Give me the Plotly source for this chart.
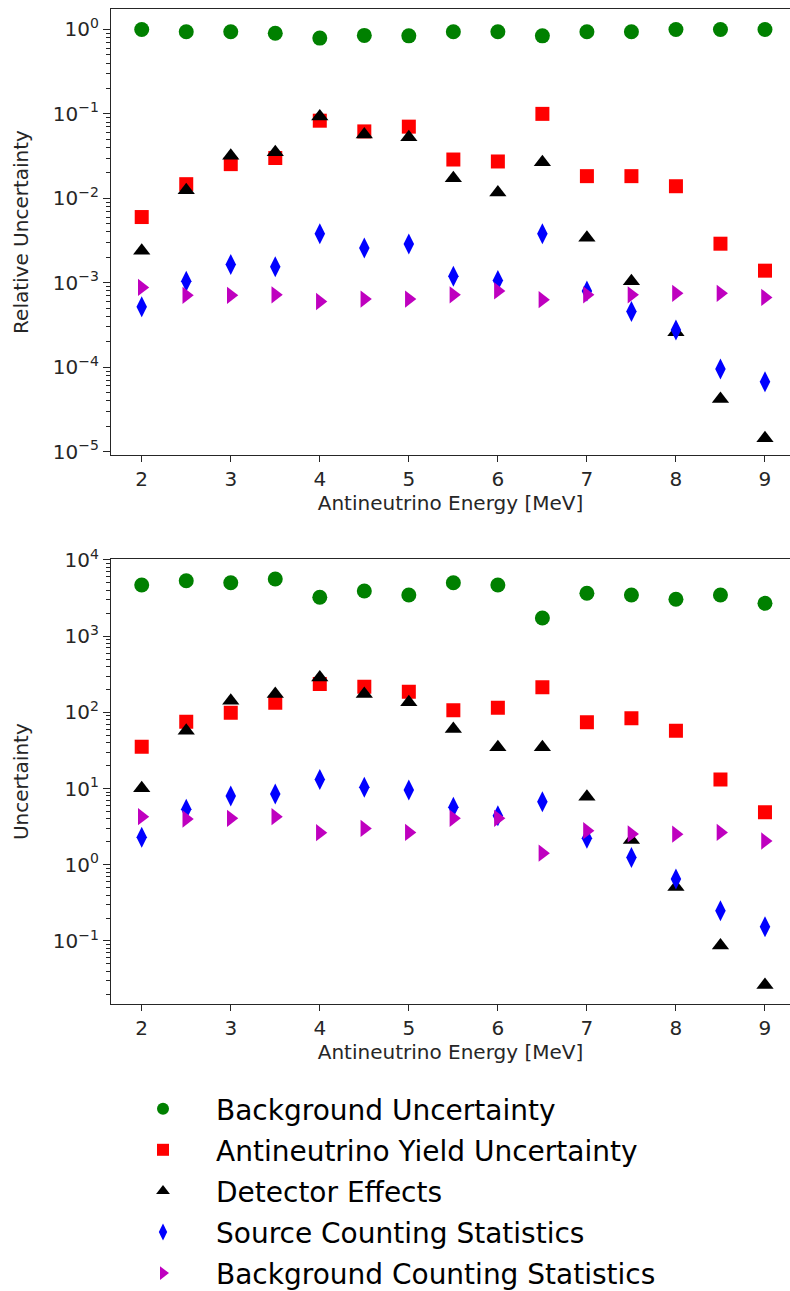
import plotly.graph_objects as go

# Antineutrino energy bins [MeV]
energy = [2.0, 2.5, 3.0, 3.5, 4.0, 4.5, 5.0, 5.5, 6.0, 6.5, 7.0, 7.5, 8.0, 8.5, 9.0]

# Relative uncertainties (upper panel)
rel_background = [1.0, 0.94, 0.94, 0.90, 0.79, 0.85, 0.84, 0.94, 0.94, 0.84, 0.94, 0.94, 1.0, 1.0, 1.0]
rel_yield = [0.0060, 0.0147, 0.0254, 0.030, 0.083, 0.062, 0.0706, 0.0288, 0.0273, 0.10,
             0.0183, 0.0183, 0.0139, 0.0029, 0.00139]
rel_detector = [0.0024, 0.0125, 0.032, 0.035, 0.093, 0.057, 0.053, 0.0173, 0.0117, 0.0268,
                0.0034, 0.00104, 0.00026, 4.2e-5, 1.44e-5]
rel_source_stat = [0.00052, 0.00104, 0.00164, 0.00155, 0.0038, 0.00258, 0.00288, 0.00119,
                   0.00106, 0.0038, 0.0008, 0.000455, 0.000275, 9.5e-5, 6.7e-5]
rel_bkg_stat = [0.00088, 0.00071, 0.00071, 0.00072, 0.0006, 0.00064, 0.00064, 0.00072,
                0.0008, 0.00063, 0.00072, 0.00072, 0.00075, 0.00075, 0.00067]

# Absolute uncertainties (lower panel)
abs_background = [4700, 5350, 5030, 5640, 3240, 3920, 3470, 5030, 4700, 1730, 3660, 3470, 3050, 3470, 2700]
abs_yield = [35.5, 75.5, 99, 134, 236, 217, 187, 107, 115, 213, 74, 83.5, 57.5, 13.2, 4.9]
abs_detector = [10.1, 57.5, 142, 174, 288, 174, 136, 60.5, 34.8, 34.8, 7.8, 2.11, 0.51, 0.087, 0.0265]
abs_source_stat = [2.3, 5.35, 8.0, 8.5, 13.2, 10.4, 9.6, 5.7, 4.4, 6.7, 2.23, 1.25, 0.65, 0.25, 0.154]
abs_bkg_stat = [4.28, 3.99, 4.07, 4.28, 2.64, 3.0, 2.66, 4.07, 4.07, 1.42, 2.8, 2.54, 2.52, 2.66, 2.05]

series_names = [
    "Background Uncertainty",
    "Antineutrino Yield Uncertainty",
    "Detector Effects",
    "Source Counting Statistics",
    "Background Counting Statistics",
]

x_ticks = [2, 3, 4, 5, 6, 7, 8, 9]

W, H = 790, 1291
FONT = "DejaVu Sans"
AXIS_COLOR = "#262626"
AX_FONT = 20

styles = [
    dict(symbol="circle", color="#008000", size=15),
    dict(symbol="square", color="#ff0000", size=14),
    dict(symbol="triangle-up", color="#000000", size=15),
    dict(symbol="diamond-tall", color="#0000ff", size=15),
    dict(symbol="triangle-right", color="#bf00bf", size=15),
]

fig = go.Figure()

top_data = [rel_background, rel_yield, rel_detector, rel_source_stat, rel_bkg_stat]
bottom_data = [abs_background, abs_yield, abs_detector, abs_source_stat, abs_bkg_stat]

for name, vals, st in zip(series_names, top_data, styles):
    fig.add_trace(go.Scatter(
        x=energy, y=vals, mode="markers", name=name, legendgroup=name,
        marker=dict(symbol=st["symbol"], color=st["color"], size=st["size"], line=dict(width=0)),
        xaxis="x", yaxis="y", showlegend=True,
    ))

for name, vals, st in zip(series_names, bottom_data, styles):
    fig.add_trace(go.Scatter(
        x=energy, y=vals, mode="markers", name=name, legendgroup=name,
        marker=dict(symbol=st["symbol"], color=st["color"], size=st["size"], line=dict(width=0)),
        xaxis="x2", yaxis="y2", showlegend=False,
    ))


def px_y(p):
    return 1 - p / H


def log_ticks(lo, hi):
    major = list(range(lo, hi + 1))
    minor = []
    for e in range(lo - 1, hi + 1):
        for m in range(2, 10):
            minor.append(m * 10 ** e)
    text = []
    for e in major:
        s = str(e).replace("-", "\u2212")
        text.append(f"10<sup>{s}</sup>")
    return [10 ** e for e in major], text, minor


xr = [1.655, 9.281]
xdom = [111 / W, 1.0]

common_x = dict(
    type="linear", range=xr, domain=xdom, tickvals=x_ticks, automargin=False,
    showline=True, linecolor=AXIS_COLOR, linewidth=1.2, mirror=True,
    ticks="outside", ticklen=6, tickwidth=1, tickcolor=AXIS_COLOR,
    showgrid=False, zeroline=False,
    tickfont=dict(family=FONT, size=AX_FONT, color=AXIS_COLOR),
    title=dict(text="Antineutrino Energy [MeV]", font=dict(family=FONT, size=AX_FONT, color=AXIS_COLOR), standoff=5),
)

tv1, tt1, mn1 = log_ticks(-5, 0)
tv2, tt2, mn2 = log_ticks(-1, 4)

common_y = dict(
    type="log", automargin=False, showline=True, linecolor=AXIS_COLOR, linewidth=1.2, mirror=False,
    ticks="outside", ticklen=7, tickwidth=1, tickcolor=AXIS_COLOR,
    showgrid=False, zeroline=False,
    tickfont=dict(family=FONT, size=AX_FONT, color=AXIS_COLOR),
)

fig.update_layout(
    width=W, height=H,
    margin=dict(l=0, r=0, t=0, b=0, autoexpand=False),
    paper_bgcolor="white", plot_bgcolor="white",
    font=dict(family=FONT, color=AXIS_COLOR),
    xaxis=dict(common_x, anchor="y"),
    yaxis=dict(common_y, anchor="x", domain=[px_y(455), px_y(9)], range=[-5.04, 0.242],
               tickvals=tv1, ticktext=tt1,
               minor=dict(tickvals=mn1, ticks="outside", ticklen=3.5, tickcolor=AXIS_COLOR, showgrid=False),
               title=dict(text="Relative Uncertainty", font=dict(family=FONT, size=AX_FONT, color=AXIS_COLOR), standoff=18)),
    xaxis2=dict(common_x, anchor="y2"),
    yaxis2=dict(common_y, anchor="x2", domain=[px_y(1004.3), px_y(559)], range=[-1.831, 4.013],
                tickvals=tv2, ticktext=tt2,
                minor=dict(tickvals=mn2, ticks="outside", ticklen=3.5, tickcolor=AXIS_COLOR, showgrid=False),
                title=dict(text="Uncertainty", font=dict(family=FONT, size=AX_FONT, color=AXIS_COLOR), standoff=18)),
    legend=dict(
        x=110 / W, y=px_y(1084), xanchor="left", yanchor="top",
        font=dict(family=FONT, size=28, color="#000000"),
        bgcolor="rgba(0,0,0,0)", borderwidth=0,
        tracegroupgap=1.7, itemsizing="constant", itemwidth=96,
        maxheight=400,
    ),
)

fig.write_html("out.html")
